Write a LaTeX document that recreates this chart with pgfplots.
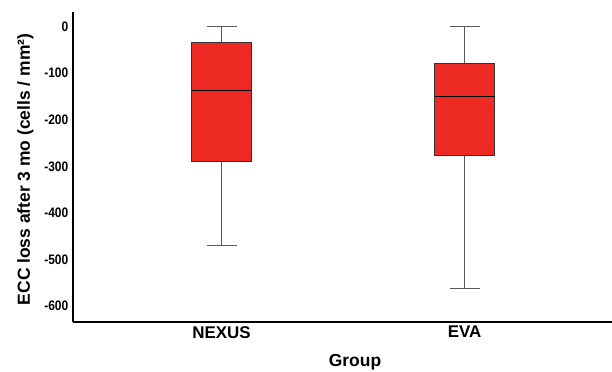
\documentclass[border=0pt]{standalone}
\usepackage{pgfplots}
\pgfplotsset{compat=1.18}
\usepackage{fontspec}
\setmainfont{Liberation Sans}
\definecolor{boxred}{RGB}{237,42,36}
\definecolor{whiskgray}{RGB}{90,90,90}
\begin{document}
\begin{tikzpicture}
\begin{axis}[
  name=ax,
  scale only axis,
  width=538.7bp, height=310bp,
  xmin=0.39, xmax=2.606,
  ymin=-634, ymax=32.3,
  axis x line=bottom, axis y line=left,
  axis line style={-, line width=1.8bp, black},
  xtick={1,2}, xticklabels={NEXUS,EVA},
  ytick={0,-100,-200,-300,-400,-500,-600},
  major tick length=0pt,
  /pgf/number format/assume math mode=true,
  yticklabel style={font=\fontsize{12}{14}\selectfont\bfseries, xshift=-1.5bp, yscale=1.15},
  xticklabel style={font=\fontsize{17}{20}\selectfont\bfseries, yshift=-1bp},
  xlabel={Group},
  xlabel style={font=\fontsize{17.5}{20}\selectfont\bfseries, at={(axis description cs:0.523,0)}, anchor=center, yshift=-41bp},
  ylabel={ECC loss after 3 mo (cells / mm²)},
  ylabel style={font=\fontsize{17.5}{20}\selectfont\bfseries, at={(axis description cs:-0.0891,0.491)}, anchor=center},
]
% NEXUS: whiskers
\addplot[draw=whiskgray, line width=0.8bp] coordinates {(1,-290) (1,-471)};
\addplot[draw=whiskgray, line width=0.8bp] coordinates {(0.93825,-471) (1.06175,-471)};
\addplot[draw=whiskgray, line width=0.8bp] coordinates {(1,-33) (1,0)};
\addplot[draw=whiskgray, line width=0.8bp] coordinates {(0.93825,0) (1.06175,0)};
% NEXUS box
\addplot[draw=black!80, line width=0.8bp, fill=boxred] coordinates {(0.8765,-290) (1.1235,-290) (1.1235,-33) (0.8765,-33)} -- cycle;
\addplot[draw=black, line width=1.3bp] coordinates {(0.8765,-137) (1.1235,-137)};
% EVA: whiskers
\addplot[draw=whiskgray, line width=0.8bp] coordinates {(2,-277) (2,-563)};
\addplot[draw=whiskgray, line width=0.8bp] coordinates {(1.93825,-563) (2.06175,-563)};
\addplot[draw=whiskgray, line width=0.8bp] coordinates {(2,-79) (2,0)};
\addplot[draw=whiskgray, line width=0.8bp] coordinates {(1.93825,0) (2.06175,0)};
% EVA box
\addplot[draw=black!80, line width=0.8bp, fill=boxred] coordinates {(1.8765,-277) (2.1235,-277) (2.1235,-79) (1.8765,-79)} -- cycle;
\addplot[draw=black, line width=1.3bp] coordinates {(1.8765,-150.5) (2.1235,-150.5)};
\end{axis}
\pgfresetboundingbox
\path ([xshift=-73.3bp, yshift=-50.3bp]ax.south west) rectangle ([yshift=11.7bp]ax.north east);
\end{tikzpicture}
\end{document}
